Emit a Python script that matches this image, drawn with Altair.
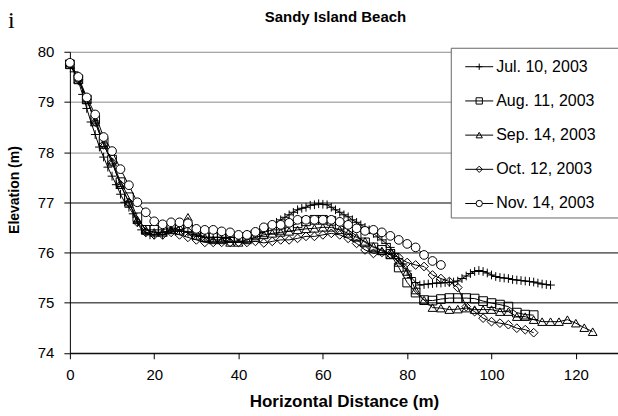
import altair as alt
import pandas as pd

FONT = "Liberation Sans"

series_names = ["Jul. 10, 2003", "Aug. 11, 2003", "Sep. 14, 2003",
                "Oct. 12, 2003", "Nov. 14, 2003"]

# Survey profiles: horizontal distance (m) and elevation (m)
jul_x = [0, 1, 2, 3, 4, 5, 6, 7, 8, 9, 10, 11, 12, 13, 14, 15, 16, 17, 18, 19,
         20, 21, 22, 23, 24, 25, 26, 27, 28, 29, 30, 31, 32, 33, 34, 35, 36, 37, 38, 39,
         40, 41, 42, 43, 44, 45, 46, 47, 48, 49, 50, 51, 52, 53, 54, 55, 56, 57, 58, 59,
         60, 61, 62, 63, 64, 65, 66, 67, 68, 69, 70, 71, 72, 73, 74, 75, 76, 77, 78, 79,
         80, 81, 82, 83, 84, 85, 86, 87, 88, 89, 90, 91, 92, 93, 94, 95, 96, 97, 98, 99,
         100, 101, 102, 103, 104, 105, 106, 107, 108, 109, 110, 111, 112, 113, 114]
jul_y = [79.75, 79.6, 79.42, 79.15, 78.87, 78.6, 78.35, 78.1, 77.9, 77.7,
         77.52, 77.35, 77.16, 77.0, 76.9, 76.77, 76.6, 76.45, 76.4, 76.35,
         76.35, 76.4, 76.35, 76.4, 76.45, 76.42, 76.45, 76.42, 76.4, 76.35,
         76.35, 76.32, 76.3, 76.3, 76.3, 76.3, 76.3, 76.28, 76.3, 76.3,
         76.3, 76.3, 76.31, 76.35, 76.36, 76.4, 76.45, 76.5, 76.55, 76.6,
         76.65, 76.7, 76.75, 76.8, 76.85, 76.88, 76.9, 76.94, 76.95, 76.97,
         76.96, 76.95, 76.9, 76.85, 76.8, 76.75, 76.71, 76.65, 76.6, 76.55,
         76.5, 76.45, 76.38, 76.31, 76.25, 76.18, 76.1, 75.98, 75.88, 75.77,
         75.63, 75.5, 75.4, 75.35, 75.36, 75.37, 75.38, 75.39, 75.39, 75.4,
         75.4, 75.41, 75.43, 75.48, 75.53, 75.58, 75.62, 75.64, 75.62, 75.59,
         75.55, 75.52, 75.5, 75.49, 75.48, 75.46, 75.45, 75.44, 75.43, 75.42,
         75.41, 75.39, 75.37, 75.36, 75.35]

aug_x = [0, 2, 4, 6, 8, 10, 12, 14, 16, 18, 20, 22, 24, 26, 28, 30, 32, 34, 36, 38,
         40, 42, 44, 46, 48, 50, 52, 54, 56, 58, 60, 62, 64, 66, 68, 70, 72, 74, 76, 78,
         80, 82, 84, 86, 88, 90, 92, 94, 96, 98, 100, 102, 104, 106, 108, 110]
aug_y = [79.75, 79.45, 79.05, 78.65, 78.2, 77.85, 77.4, 77.1, 76.7, 76.45,
         76.45, 76.45, 76.5, 76.45, 76.5, 76.35, 76.3, 76.3, 76.3, 76.3,
         76.3, 76.3, 76.35, 76.4, 76.45, 76.45, 76.51, 76.58, 76.62, 76.65,
         76.65, 76.63, 76.55, 76.45, 76.33, 76.2, 76.1, 76.05, 75.97, 75.7,
         75.4, 75.2, 75.05, 75.04, 75.07, 75.09, 75.09, 75.09, 75.08, 75.03,
         74.99, 74.96, 74.92, 74.8, 74.76, 74.75]

sep_x = [0, 2, 4, 6, 8, 10, 12, 14, 16, 18, 20, 22, 24, 26, 28, 30, 32, 34, 36, 38,
         40, 42, 44, 46, 48, 50, 52, 54, 56, 58, 60, 62, 64, 66, 68, 70, 72, 74, 76, 78,
         80, 82, 84, 86, 88, 90, 92, 94, 96, 98, 100, 102, 104, 106, 108, 110, 112, 114,
         116, 118, 120, 122, 124]
sep_y = [79.75, 79.45, 79.05, 78.6, 78.15, 77.8, 77.35, 77.0, 76.65, 76.45,
         76.4, 76.4, 76.45, 76.5, 76.7, 76.4, 76.3, 76.25, 76.25, 76.2,
         76.2, 76.25, 76.3, 76.35, 76.38, 76.4, 76.42, 76.45, 76.47, 76.48,
         76.5, 76.5, 76.45, 76.38, 76.3, 76.22, 76.12, 76.03, 75.95, 75.8,
         75.62, 75.25, 75.05, 74.9, 74.89, 74.86, 74.87, 74.89, 74.86, 74.86,
         74.86, 74.82, 74.82, 74.72, 74.72, 74.66, 74.62, 74.62, 74.62, 74.66,
         74.59, 74.5, 74.42]

oct_x = [0, 2, 4, 6, 8, 10, 12, 14, 16, 18, 20, 22, 24, 26, 28, 30, 32, 34, 36, 38,
         40, 42, 44, 46, 48, 50, 52, 54, 56, 58, 60, 62, 64, 66, 68, 70, 72, 74, 76, 78,
         80, 82, 84, 86, 88, 90, 92, 94, 96, 98, 100, 102, 104, 106, 108, 110]
oct_y = [79.75, 79.45, 79.05, 78.6, 78.15, 77.8, 77.35, 77.0, 76.6, 76.4,
         76.35, 76.35, 76.4, 76.35, 76.3, 76.25, 76.2, 76.2, 76.2, 76.2,
         76.2, 76.2, 76.22, 76.19, 76.22, 76.25, 76.25, 76.28, 76.32, 76.32,
         76.35, 76.38, 76.35, 76.28, 76.18, 76.05, 75.98, 76.0, 75.97, 75.9,
         75.8, 75.75, 75.72, 75.55, 75.48, 75.42, 75.3, 74.92, 74.82, 74.69,
         74.62, 74.59, 74.56, 74.49, 74.46, 74.4]

nov_x = [0, 2, 4, 6, 8, 10, 12, 14, 16, 18, 20, 22, 24, 26, 28, 30, 32, 34, 36, 38,
         40, 42, 44, 46, 48, 50, 52, 54, 56, 58, 60, 62, 64, 66, 68, 70, 72, 74, 76, 78,
         80, 82, 84, 86, 88]
nov_y = [79.78, 79.5, 79.09, 78.75, 78.3, 78.02, 77.66, 77.34, 77.0, 76.8,
         76.62, 76.56, 76.6, 76.6, 76.58, 76.47, 76.45, 76.45, 76.42, 76.4,
         76.35, 76.35, 76.41, 76.5, 76.55, 76.55, 76.59, 76.65, 76.65, 76.65,
         76.65, 76.65, 76.61, 76.55, 76.48, 76.43, 76.45, 76.4, 76.33, 76.25,
         76.17, 76.1, 75.95, 75.83, 75.75]

x_ticks = [0, 20, 40, 60, 80, 100, 120]
y_ticks = [74, 75, 76, 77, 78, 79, 80]

chart_title = "Sandy Island Beach"
panel_tag = "i"

# marker per survey: thin plus, open square, open triangle, open diamond, white circle
marker_shapes = ["M-1,0L1,0M0,-1L0,1", "square", "triangle-up", "diamond", "circle"]
marker_fills = ["transparent", "transparent", "transparent", "transparent", "white"]

frames = []
for name, xs, ys in zip(series_names,
                        [jul_x, aug_x, sep_x, oct_x, nov_x],
                        [jul_y, aug_y, sep_y, oct_y, nov_y]):
    frames.append(pd.DataFrame({"series": name, "dist": xs, "elev": ys}))
profiles = pd.concat(frames, ignore_index=True)

x_enc = alt.X(
    "dist:Q",
    scale=alt.Scale(domain=[0, 130], nice=False, zero=False),
    axis=alt.Axis(
        values=x_ticks, title="Horizontal Distance (m)", grid=False,
        tickSize=6, labelFontSize=15, labelPadding=9, labelFlush=False,
        labelOverlap=False, titleFontSize=17, titleFontWeight="bold",
        titleBaseline="alphabetic", titleY=54,
    ),
)
y_enc = alt.Y(
    "elev:Q",
    scale=alt.Scale(domain=[74, 80], nice=False, zero=False),
    axis=alt.Axis(
        values=y_ticks, title="Elevation (m)", grid=True,
        gridColor={"condition": {"test": "datum.value >= 78", "value": "#8a8a8a"},
                   "value": "#000000"},
        gridWidth=1, tickSize=6, labelFontSize=15, labelPadding=10,
        labelFlush=False, titleFontSize=14, titleFontWeight="bold",
        titleAngle=270, titleAlign="center", titleBaseline="middle",
        titleX=-55, titleY=138,
    ),
)
shape_enc = alt.Shape("series:N", scale=alt.Scale(domain=series_names, range=marker_shapes),
                      legend=None)
fill_enc = alt.Fill("series:N", scale=alt.Scale(domain=series_names, range=marker_fills),
                    legend=None)

lines = alt.Chart(profiles).mark_line(color="black", strokeWidth=1).encode(
    x=x_enc, y=y_enc, detail="series:N"
)
points = alt.Chart(profiles).mark_point(
    stroke="black", strokeWidth=1, size=76, opacity=1
).encode(
    x="dist:Q", y="elev:Q", shape=shape_enc, fill=fill_enc
)
main = alt.layer(lines, points)

# boxed key in the upper right corner
legend_rows = pd.DataFrame({"series": series_names})
row_y = alt.Y("series:N",
              scale=alt.Scale(type="point", domain=series_names, range=[15, 152], padding=0),
              axis=None)
box = alt.Chart(pd.DataFrame({"k": [0]})).mark_rect(
    fill="white", stroke="#666666", strokeWidth=1
).encode(x=alt.value(382), x2=alt.value(570), y=alt.value(-3.5), y2=alt.value(166.5))
key_lines = alt.Chart(legend_rows).mark_rule(color="black", strokeWidth=1).encode(
    x=alt.value(396), x2=alt.value(424), y=row_y
)
key_marks = alt.Chart(legend_rows).mark_point(
    stroke="black", strokeWidth=1, size=40, opacity=1
).encode(x=alt.value(410), y=row_y, shape=shape_enc, fill=fill_enc)
key_text = alt.Chart(legend_rows).mark_text(
    align="left", baseline="middle", font=FONT, fontSize=16, color="black"
).encode(x=alt.value(427), y=row_y, text="series:N")
key = alt.layer(box, key_lines, key_marks, key_text)

# heading above the plot and the panel letter at the top left
heading = alt.Chart(pd.DataFrame({"label": [chart_title]})).mark_text(
    align="center", baseline="alphabetic", font=FONT, fontSize=15,
    fontWeight="bold", color="black"
).encode(x=alt.value(266), y=alt.value(-30), text="label:N")
tag = alt.Chart(pd.DataFrame({"tag": [panel_tag]})).mark_text(
    align="left", baseline="alphabetic", font="Liberation Serif", fontSize=24, color="black"
).encode(x=alt.value(-62), y=alt.value(-24), text="tag:N")

chart = alt.layer(main, key, heading, tag).resolve_scale(y="independent").properties(
    width=549,
    height=301.5,
    autosize="none",
    padding={"left": 70, "top": 51.5, "right": 0, "bottom": 63},
).configure(background="white").configure_view(stroke=None).configure_axis(
    labelFont=FONT, titleFont=FONT, labelColor="black", titleColor="black",
    domainColor="black", tickColor="black", domainWidth=1, tickWidth=1,
)

chart.save("out.html", embed_options={"renderer": "svg", "actions": False})
